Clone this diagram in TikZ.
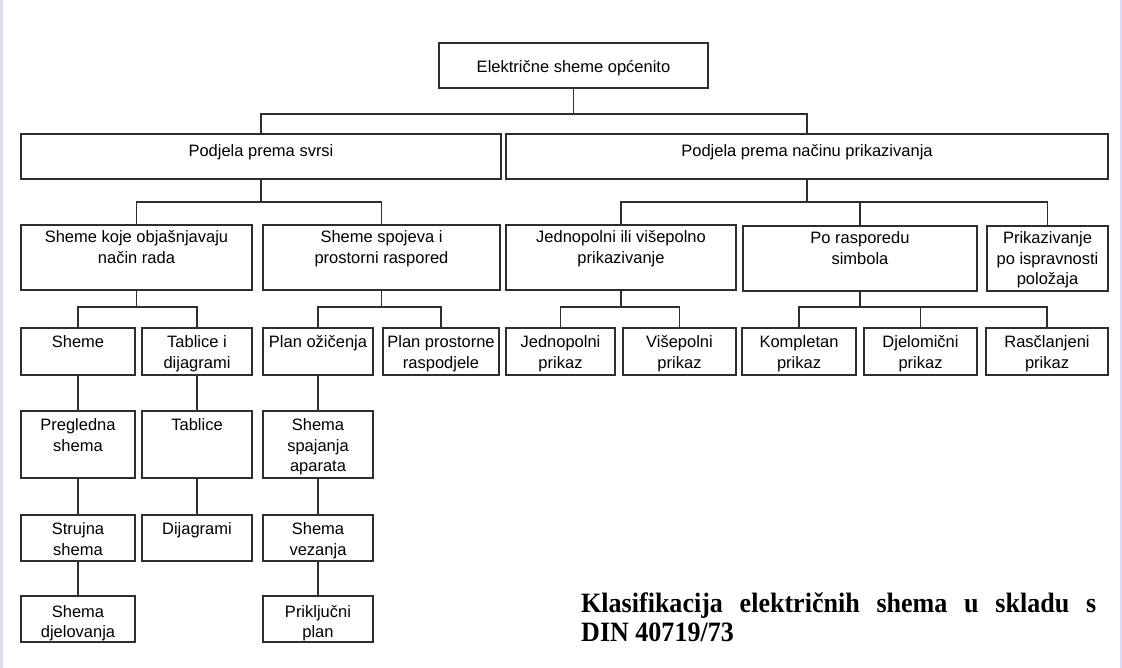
\documentclass[tikz,border=0pt]{standalone}
\usepackage{fontspec}
\setmainfont{Liberation Sans}
\newfontfamily\capfont[FakeStretch=0.93]{Liberation Serif}
\definecolor{lav}{HTML}{DCDCF4}
\definecolor{ink}{HTML}{2E2E2E}
\tikzset{
  box/.style={draw=ink, line width=1.3pt, inner sep=0pt, outer sep=0pt, anchor=north west,
    font=\fontsize{16.5pt}{20.5pt}\selectfont, text=black},
  conn/.style={draw=ink, line width=1.3pt},
  captext/.style={anchor=base west, inner sep=0pt, font=\capfont\bfseries\fontsize{28pt}{30pt}\selectfont}
}
% name, x1, y1, x2, y2, first baseline offset, text
\newcommand\bx[7]{\node[box] (#1) at (#2,#3) {\parbox[c][\dimexpr#5pt-#3pt\relax][t]{\dimexpr#4pt-#2pt\relax}{\centering\rule{0pt}{#6pt}#7}};}
\begin{document}
\begin{tikzpicture}[x=1pt,y=-1pt]
\useasboundingbox (0,0) rectangle (1122,668);
\fill[white] (0,0) rectangle (1122,668);
\fill[lav] (0,0) rectangle (3,668);
\fill[lav] (1120,0) rectangle (1122,668);

% level 0
\bx{top}{439}{43}{708}{88}{30}{Električne sheme općenito}
% level 1
\bx{svrsi}{21}{134}{501}{179}{23}{Podjela prema svrsi}
\bx{nacin}{506}{134}{1108}{179}{23}{Podjela prema načinu prikazivanja}
% level 2
\bx{objas}{21}{225}{252}{290}{18}{Sheme koje objašnjavaju\\ način rada}
\bx{spoj}{263}{225}{500}{290}{18}{Sheme spojeva i\\ prostorni raspored}
\bx{jedvis}{506}{225}{736}{290}{18}{Jednopolni ili višepolno\\ prikazivanje}
\bx{rasp}{743}{226}{977}{291}{18}{Po rasporedu\\ simbola}
\bx{ispr}{987}{226}{1108}{291}{18}{Prikazivanje\\ po ispravnosti\\ položaja}
% level 3
\bx{sheme}{21}{328}{135}{375}{19.5}{Sheme}
\bx{tabdij}{142}{328}{252}{375}{19.5}{Tablice i\\ dijagrami}
\bx{planoz}{263}{328}{373}{375}{19.5}{Plan ožičenja}
\bx{planpr}{383}{328}{499}{375}{19.5}{Plan prostorne\\ raspodjele}
\bx{jedno}{506}{328}{615}{375}{19.5}{Jednopolni\\ prikaz}
\bx{vise}{623}{328}{736}{375}{19.5}{Višepolni\\ prikaz}
\bx{kompl}{742}{328}{856}{375}{19.5}{Kompletan\\ prikaz}
\bx{djel}{864}{328}{977}{375}{19.5}{Djelomični\\ prikaz}
\bx{rascl}{986}{328}{1108}{375}{19.5}{Rasčlanjeni\\ prikaz}
% level 4
\bx{pregl}{21}{411}{135}{478}{19.5}{Pregledna\\ shema}
\bx{tabl}{142}{411}{252}{478}{19.5}{Tablice}
\bx{spaj}{263}{411}{373}{478}{19.5}{Shema\\ spajanja\\ aparata}
% level 5
\bx{struj}{21}{515}{135}{561}{19.5}{Strujna\\ shema}
\bx{dijag}{142}{515}{252}{561}{19.5}{Dijagrami}
\bx{vez}{263}{515}{373}{561}{19.5}{Shema\\ vezanja}
% level 6
\bx{djelov}{21}{596}{135}{642}{21}{Shema\\ djelovanja}
\bx{prikl}{263}{596}{373}{642}{21}{Priključni\\ plan}

% bus levels
\coordinate (b1) at (0,114);
\coordinate (b2) at (0,202);
\coordinate (b3) at (0,307);

% connectors
\draw[conn] (top.south) -- (top.south |- b1) -| (svrsi.north);
\draw[conn] (top.south |- b1) -| (nacin.north);

\draw[conn] (svrsi.south) -- (svrsi.south |- b2) -| (objas.north);
\draw[conn] (svrsi.south |- b2) -| (spoj.north);

\draw[conn] (nacin.south) -- (nacin.south |- b2) -| (jedvis.north);
\draw[conn] (nacin.south |- b2) -| (ispr.north);
\draw[conn] (rasp.north) -- (rasp.north |- b2);

\draw[conn] (objas.south) -- (objas.south |- b3) -| (sheme.north);
\draw[conn] (objas.south |- b3) -| (tabdij.north);

\draw[conn] (spoj.south) -- (spoj.south |- b3) -| (planoz.north);
\draw[conn] (spoj.south |- b3) -| (planpr.north);

\draw[conn] (jedvis.south) -- (jedvis.south |- b3) -| (jedno.north);
\draw[conn] (jedvis.south |- b3) -| (vise.north);

\draw[conn] (rasp.south) -- (rasp.south |- b3) -| (kompl.north);
\draw[conn] (rasp.south |- b3) -| (rascl.north);
\draw[conn] (djel.north) -- (djel.north |- b3);

\draw[conn] (sheme.south) -- (pregl.north);
\draw[conn] (pregl.south) -- (struj.north);
\draw[conn] (struj.south) -- (djelov.north);
\draw[conn] (tabdij.south) -- (tabl.north);
\draw[conn] (tabl.south) -- (dijag.north);
\draw[conn] (planoz.south) -- (spaj.north);
\draw[conn] (spaj.south) -- (vez.north);
\draw[conn] (vez.south) -- (prikl.north);

% caption
\node[captext] (cap1) at (581,612) {\makebox[515pt][s]{Klasifikacija električnih shema u skladu s}};
\node[captext] (cap2) at (581,641) {DIN 40719/73};
\end{tikzpicture}
\end{document}
